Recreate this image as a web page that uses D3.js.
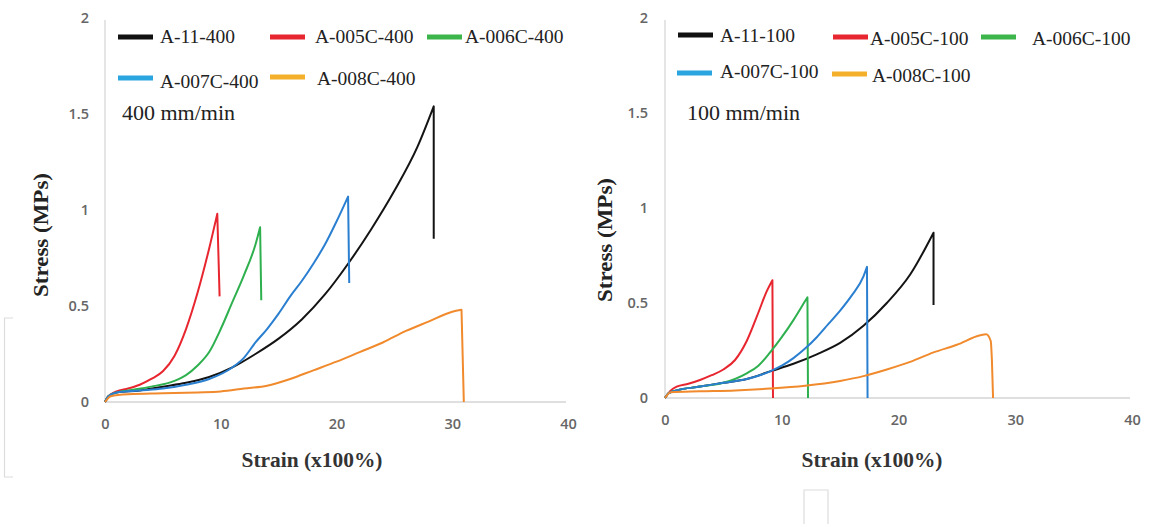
<!DOCTYPE html>
<html lang="en">
<head>
<meta charset="UTF-8">
<title>Stress - Strain</title>
<script src="https://d3js.org/d3.v7.min.js"></script>
<style>
  body { margin: 0; background: #fff; }
  svg { display: block; }
</style>
</head>
<body>
<div id="chart"></div>
<script>
(function(d3) {
  'use strict';

  // ---- data: 400 mm/min ----
  var names400 = ['A-11-400', 'A-005C-400', 'A-006C-400', 'A-007C-400', 'A-008C-400'];
  var a11_400 = [[0,0],[0.3,0.03],[1,0.05],[3,0.06],[5,0.08],[7,0.10],[9,0.13],[11,0.18],[13,0.25],[15,0.33],[17,0.43],[19,0.56],[21,0.72],[23,0.90],[25,1.10],[27,1.33],[28.4,1.54],[28.4,0.85]];
  var a005_400 = [[0,0],[0.3,0.03],[1,0.055],[2,0.07],[3,0.09],[4,0.12],[5,0.16],[6,0.24],[7,0.38],[8,0.57],[9,0.80],[9.7,0.98],[9.9,0.55]];
  var a006_400 = [[0,0],[0.3,0.03],[1,0.05],[2,0.06],[4,0.08],[6,0.11],[7,0.14],[8,0.19],[9,0.26],[10,0.38],[11,0.52],[12,0.66],[13,0.82],[13.4,0.91],[13.5,0.53]];
  var a007_400 = [[0,0],[0.3,0.03],[1,0.05],[3,0.06],[5,0.07],[7,0.09],[9,0.12],[11,0.18],[12,0.23],[13,0.31],[14,0.38],[15,0.46],[16,0.55],[17,0.63],[18,0.72],[19,0.82],[20,0.94],[21,1.07],[21.1,0.62]];
  var a008_400 = [[0,0],[0.5,0.03],[2,0.04],[5,0.045],[8,0.05],[10,0.055],[12,0.07],[14,0.085],[16,0.12],[18,0.165],[20,0.21],[22,0.26],[24,0.31],[26,0.37],[28,0.42],[30,0.47],[30.8,0.48],[31,0]];

  // ---- data: 100 mm/min ----
  var names100 = ['A-11-100', 'A-005C-100', 'A-006C-100', 'A-007C-100', 'A-008C-100'];
  var a11_100 = [[0,0],[0.3,0.025],[1,0.04],[3,0.06],[5,0.08],[7,0.10],[9,0.14],[11,0.18],[13,0.23],[15,0.29],[17,0.38],[19,0.50],[21,0.65],[23,0.87],[23,0.49]];
  var a005_100 = [[0,0],[0.5,0.04],[1,0.06],[2,0.075],[3,0.095],[4,0.12],[5,0.15],[6,0.20],[7,0.30],[8,0.45],[8.7,0.56],[9.2,0.62],[9.25,0]];
  var a006_100 = [[0,0],[0.3,0.025],[1,0.04],[3,0.06],[5,0.08],[7,0.13],[8,0.17],[9,0.24],[10,0.32],[11,0.41],[12,0.51],[12.2,0.53],[12.25,0]];
  var a007_100 = [[0,0],[0.3,0.025],[1,0.04],[3,0.06],[5,0.08],[7,0.10],[9,0.14],[10,0.17],[11,0.21],[12,0.26],[13,0.32],[14,0.39],[15,0.46],[16,0.54],[17,0.64],[17.3,0.69],[17.35,0]];
  var a008_100 = [[0,0],[0.5,0.03],[3,0.035],[6,0.04],[9,0.05],[12,0.065],[15,0.09],[17,0.115],[19,0.15],[21,0.19],[23,0.24],[25,0.28],[27,0.33],[27.5,0.335],[27.9,0.30],[28,0.2],[28.1,0]];

  var xTicks = [0, 10, 20, 30, 40];
  var yTicks = [0, 0.5, 1, 1.5, 2];

  var lineColors = ['#141414', '#e8262f', '#2fb04f', '#2a7fd0', '#f08a2c'];
  var keyColors  = ['#111111', '#e8262f', '#3cb54a', '#2aa5e0', '#f4b02a'];

  var serif = '"Liberation Serif", "Times New Roman", serif';

  var width = 1159, height = 524;
  var svg = d3.select('#chart').append('svg')
    .attr('width', width).attr('height', height);

  // faint frame remnants from the original figure
  var frame = svg.append('g').attr('fill', 'none').attr('stroke', '#dcdcdc').attr('stroke-width', 1.2);
  frame.append('path').attr('d', 'M13,318 H4.5 V477 H13');
  frame.append('path').attr('d', 'M804,524 V490 H828 V524');

  function panel(opt) {
    var x = d3.scaleLinear().domain([0, 40]).range(opt.xr);
    var y = d3.scaleLinear().domain([0, 2]).range(opt.yr);
    var g = svg.append('g');

    // axis lines
    g.append('line').attr('x1', x(0)).attr('x2', x(0)).attr('y1', y(2) + 2).attr('y2', y(0))
      .attr('stroke', '#d4d4d4').attr('stroke-width', 1.2);
    g.append('line').attr('x1', x(0)).attr('x2', x(40) - 2).attr('y1', y(0)).attr('y2', y(0))
      .attr('stroke', '#d4d4d4').attr('stroke-width', 1.5);

    var ax = g.append('g').attr('transform', 'translate(0,' + y(0) + ')')
      .call(d3.axisBottom(x).tickValues(xTicks).tickSize(0).tickPadding(opt.xPad));
    var ay = g.append('g').attr('transform', 'translate(' + x(0) + ',0)')
      .call(d3.axisLeft(y).tickValues(yTicks).tickFormat(d3.format('~g')).tickSize(0).tickPadding(opt.yPad));
    [ax, ay].forEach(function(a) {
      a.select('.domain').remove();
      a.selectAll('text').attr('fill', '#666')
        .style('font-family', '"Open Sans", sans-serif').style('font-size', '14.5px').style('font-weight', '600');
    });

    // curves: smooth rising part, straight drop at failure
    var line = d3.line()
      .x(function(d) { return x(d[0]); })
      .y(function(d) { return y(d[1]); })
      .curve(d3.curveMonotoneX);
    g.selectAll('path.curve')
      .data(opt.series)
      .enter().append('path')
      .attr('class', 'curve')
      .attr('d', function(d) {
        var last = d[d.length - 1];
        return line(d.slice(0, -1)) + 'L' + x(last[0]) + ',' + y(last[1]);
      })
      .attr('fill', 'none')
      .attr('stroke', function(d, i) { return lineColors[i]; })
      .attr('stroke-width', 2)
      .attr('stroke-linejoin', 'round');

    // axis titles
    g.append('text').attr('x', opt.xt[0]).attr('y', opt.xt[1])
      .attr('text-anchor', 'middle')
      .attr('textLength', 141).attr('lengthAdjust', 'spacingAndGlyphs')
      .style('font-family', serif).style('font-size', '20px').style('font-weight', 'bold')
      .attr('fill', '#333').text('Strain (x100%)');
    g.append('text')
      .attr('transform', 'translate(' + opt.yt[0] + ',' + opt.yt[1] + ') rotate(-90)')
      .attr('text-anchor', 'middle')
      .attr('textLength', 124).attr('lengthAdjust', 'spacingAndGlyphs')
      .style('font-family', serif).style('font-size', '20px').style('font-weight', 'bold')
      .attr('fill', '#222').text('Stress (MPs)');

    // legend
    var lg = g.selectAll('g.key').data(opt.names).enter().append('g').attr('class', 'key')
      .attr('transform', function(d, i) { return 'translate(' + opt.keyPos[i][0] + ',' + opt.keyPos[i][1] + ')'; });
    lg.append('line').attr('x1', 0).attr('x2', 35).attr('y1', 0).attr('y2', 0)
      .attr('stroke', function(d, i) { return keyColors[i]; }).attr('stroke-width', 5);
    lg.append('text')
      .attr('x', function(d, i) { return opt.keyText[i][0]; })
      .attr('y', function(d, i) { return opt.keyText[i][1]; })
      .style('font-family', serif).style('font-size', '19.5px')
      .attr('fill', '#222').text(function(d) { return d; });

    g.append('text').attr('x', opt.rate[0]).attr('y', opt.rate[1])
      .style('font-family', serif).style('font-size', '22px')
      .attr('fill', '#222').text(opt.rateText);
  }

  panel({
    xr: [105, 568], yr: [402, 18], xPad: 17, yPad: 16,
    series: [a11_400, a005_400, a006_400, a007_400, a008_400],
    names: names400,
    keyPos: [[118, 37], [270, 37], [427, 37], [118, 78], [270, 77]],
    keyText: [[42, 6], [45, 6], [38, 6], [42, 10], [47, 8]],
    xt: [312, 467], yt: [48, 235],
    rate: [122, 120], rateText: '400 mm/min'
  });

  panel({
    xr: [665, 1132], yr: [398, 18], xPad: 17, yPad: 17,
    series: [a11_100, a005_100, a006_100, a007_100, a008_100],
    names: names100,
    keyPos: [[678, 35], [833, 37], [981, 37], [677, 73], [832, 74]],
    keyText: [[42, 7], [37, 8], [51, 8], [43, 5], [40, 8]],
    xt: [872, 467], yt: [612, 240],
    rate: [687, 120], rateText: '100 mm/min'
  });

})(window.d3);
</script>
</body>
</html>
